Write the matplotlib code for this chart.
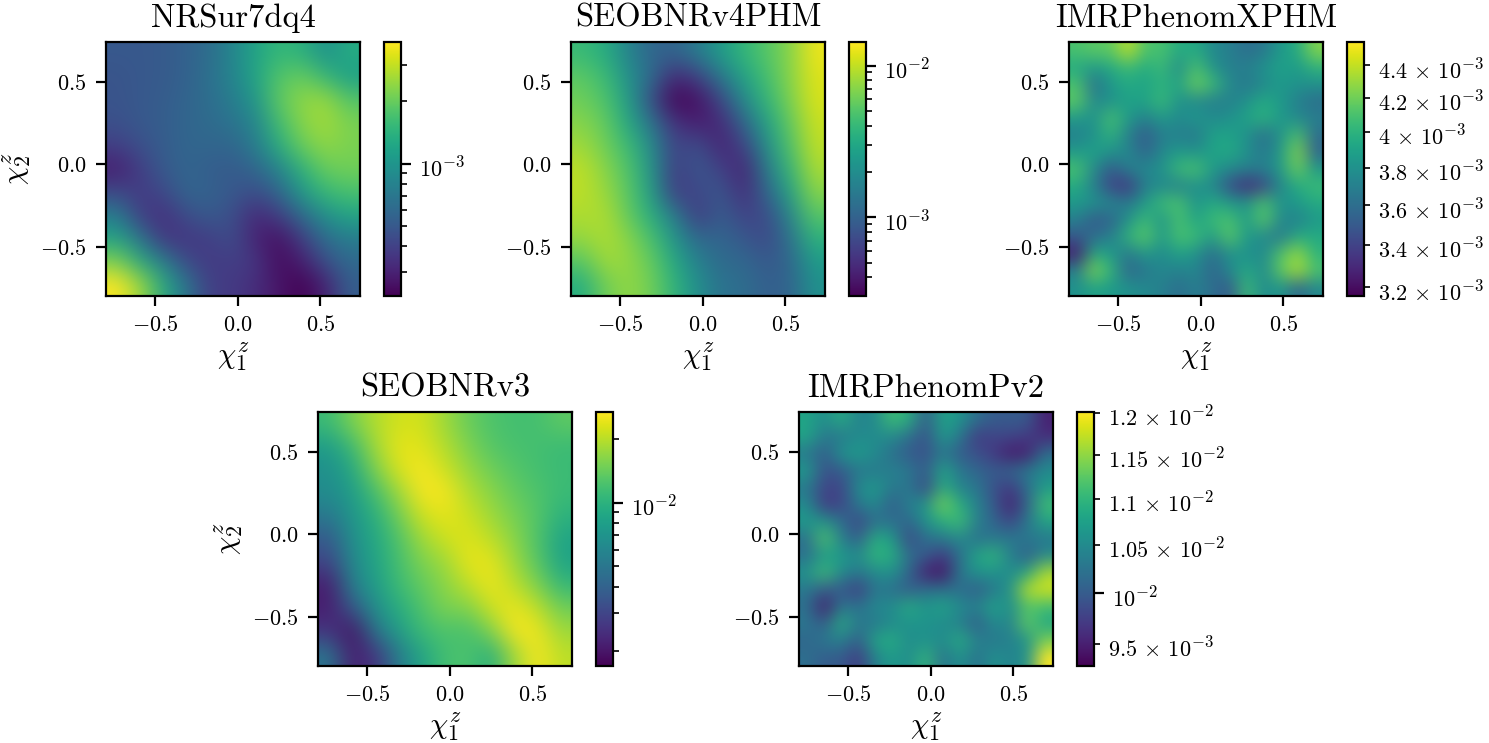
import matplotlib
matplotlib.use("Agg")
import matplotlib.pyplot as plt
import matplotlib._mathtext as mt
import numpy as np
from matplotlib.colors import LogNorm
from matplotlib.transforms import ScaledTranslation

plt.rcParams['font.family'] = ['cmr10', 'DejaVu Sans']
plt.rcParams['mathtext.fontset'] = 'cm'
plt.rcParams['axes.formatter.use_mathtext'] = True
plt.rcParams['axes.unicode_minus'] = False
mt.SHRINK_FACTOR = 0.75  # exponents a bit larger, closer to LaTeX

W, H = 1489, 743

spin_ticks = [-0.5, 0.0, 0.5]
spin_labels = [r'$-0.5$', r'$0.0$', r'$0.5$']

# mismatch maps, top row of each list is chi2 = +0.74
nrsur = np.array([
    [5.0, 5.0, 5.1, 5.5, 6.3, 8.4, 11.9, 15, 14, 9.4, 13],
    [4.8, 5.0, 5.1, 5.5, 6.5, 8.2, 11.9, 18, 20, 15, 11],
    [4.8, 5.0, 5.2, 5.7, 6.3, 7.5, 10.2, 19, 24, 25, 18],
    [4.6, 5.0, 5.3, 5.8, 6.1, 6.7, 8.4, 16, 23.2, 26, 22],
    [3.9, 4.6, 5.2, 5.8, 5.8, 5.8, 7.5, 13, 20, 24, 22],
    [2.9, 3.9, 5.1, 5.7, 5.3, 5.1, 5.8, 8.2, 14, 20, 21],
    [4.3, 3.7, 4.3, 5.8, 5.5, 5.0, 4.5, 5.8, 10.5, 15, 17],
    [7.5, 3.9, 3.4, 4.5, 5.1, 4.5, 3.2, 3.9, 6.1, 9.4, 12],
    [11.5, 6.7, 3.6, 3.6, 3.9, 4.5, 3.0, 2.6, 3.9, 6.3, 7.5],
    [22, 12.5, 7.5, 4.3, 3.7, 3.9, 3.6, 2.5, 2.9, 4.6, 6.0],
    [38, 25, 12.5, 6.7, 3.9, 3.7, 3.3, 2.7, 2.3, 3.0, 5.3],
]) * 1e-4

seobv4 = np.array([
    [41, 33, 17, 10.7, 10.3, 15, 25, 38, 52, 71, 127],
    [54, 41, 21, 11.5, 4.7, 6.5, 14, 28, 45, 71, 117],
    [61, 48, 25, 7.5, 3.1, 3.6, 7.0, 19, 38, 66, 113],
    [71, 56, 30, 13, 5.3, 4.1, 4.7, 10.7, 28, 56, 104],
    [82, 61, 41, 19, 6.5, 7.9, 4.4, 6.5, 21, 48, 97],
    [97, 71, 48, 22, 5.9, 8.8, 6.5, 4.4, 15, 38, 86],
    [97, 79, 52, 25, 5.9, 7.0, 8.8, 4.9, 10.7, 28, 71],
    [89, 89, 56, 33, 15, 5.7, 9.5, 6.5, 7.3, 18, 52],
    [76, 89, 71, 45, 22, 11, 10.7, 8.8, 7.0, 13, 36],
    [52, 82, 76, 56, 30, 16, 11.5, 11, 8.8, 10.7, 25],
    [33, 61, 76, 61, 36, 20, 13, 12, 9.5, 10.3, 21],
]) * 1e-4

xphm = np.array([
    [4.10, 4.15, 4.15, 4.40, 4.10, 4.10, 3.95, 3.95, 3.75, 3.70, 3.60, 3.65, 3.85, 3.95, 4.25],
    [3.95, 3.85, 3.95, 4.05, 3.95, 4.05, 3.75, 4.10, 3.80, 3.70, 3.70, 3.80, 3.90, 3.85, 4.00],
    [4.10, 3.60, 3.85, 3.95, 3.90, 4.00, 3.90, 4.20, 4.05, 3.75, 3.65, 3.75, 3.85, 3.80, 3.80],
    [4.15, 3.75, 3.80, 3.90, 3.90, 4.05, 3.80, 3.75, 3.70, 3.70, 3.80, 3.95, 3.85, 3.70, 3.60],
    [3.85, 3.80, 4.10, 3.85, 3.70, 3.85, 3.75, 3.85, 3.75, 3.80, 3.90, 4.00, 3.85, 3.75, 3.70],
    [3.70, 3.80, 4.00, 3.70, 3.50, 3.70, 3.70, 3.65, 3.90, 3.90, 3.80, 3.60, 3.80, 4.10, 3.60],
    [3.85, 3.90, 3.80, 3.75, 3.55, 3.75, 3.85, 3.80, 3.90, 3.95, 3.80, 3.65, 3.85, 4.25, 3.55],
    [4.10, 3.75, 3.50, 3.70, 3.75, 3.80, 4.05, 4.10, 3.85, 3.75, 3.70, 3.70, 3.85, 4.20, 3.85],
    [3.95, 3.70, 3.40, 3.35, 3.70, 3.75, 3.70, 3.80, 3.75, 3.45, 3.30, 3.40, 3.75, 3.95, 4.05],
    [3.85, 3.80, 3.75, 3.65, 3.85, 4.05, 4.10, 3.80, 3.95, 3.85, 3.80, 4.10, 3.80, 3.85, 3.95],
    [3.70, 3.50, 3.55, 3.80, 4.05, 3.80, 4.10, 3.90, 4.05, 4.10, 3.85, 4.15, 3.75, 3.70, 3.85],
    [3.50, 3.60, 3.70, 4.00, 4.15, 3.85, 4.10, 4.05, 3.85, 4.15, 3.85, 3.75, 3.65, 3.95, 3.95],
    [3.25, 3.95, 3.85, 3.65, 3.85, 3.75, 3.90, 3.80, 3.60, 3.80, 3.80, 3.75, 4.10, 4.30, 4.00],
    [3.70, 4.25, 4.00, 3.55, 3.65, 3.75, 3.70, 3.75, 3.55, 3.75, 3.95, 3.75, 4.15, 4.35, 4.10],
    [3.80, 3.90, 3.85, 3.80, 3.75, 3.70, 3.60, 3.70, 3.60, 3.50, 4.05, 3.75, 3.85, 3.55, 3.75],
]) * 1e-3

seobv3 = np.array([
    [11.1, 15.5, 19.4, 22.2, 22.2, 17.8, 14.2, 12.4, 11.7, 11.7, 13.5],
    [7.8, 11.1, 18.3, 24.2, 23.5, 19.4, 15.5, 13, 12, 11.7, 11.1],
    [6.7, 8.9, 15.5, 22.9, 26.2, 21.6, 17.3, 14.6, 12.8, 11.7, 11.1],
    [6.4, 7.8, 11.7, 17.8, 25.8, 25.8, 19.4, 16.4, 13.8, 12.4, 11.1],
    [5.1, 7.2, 9.7, 14.6, 21.6, 24.2, 21.6, 17.8, 15, 12.8, 10],
    [3.7, 6.7, 8.9, 12.4, 17.8, 21.6, 23.5, 20.4, 16.4, 12.4, 8.4],
    [3.0, 6.2, 8.4, 11.7, 15.5, 17.8, 24.2, 24.2, 17.8, 13, 8.4],
    [2.1, 5.6, 7.8, 11.1, 13.8, 16.4, 20.4, 25, 20.4, 15.5, 10.6],
    [2.1, 3.6, 6.7, 9.4, 12.4, 15.5, 15.5, 21.6, 25, 20.4, 14.6],
    [2.6, 1.9, 5.0, 7.8, 11.1, 12.4, 11.7, 15.5, 25.8, 25, 17.8],
    [5.0, 2.1, 2.6, 5.4, 8.4, 11.7, 12.4, 9.4, 17.8, 25.8, 20.4],
]) * 1e-3

pv2 = np.array([
    [1.08, 1.05, 1.09, 1.04, 1.05, 1.11, 1.09, 1.00, 1.08, 1.06, 1.02, 1.00, 1.00, 1.00, 0.95],
    [1.08, 1.03, 1.03, 1.05, 1.05, 1.05, 1.02, 0.99, 1.07, 1.03, 0.97, 0.98, 0.98, 0.97, 0.96],
    [1.03, 1.00, 1.06, 1.07, 1.05, 1.02, 1.00, 0.99, 1.03, 1.00, 0.99, 0.97, 0.945, 0.95, 1.02],
    [1.07, 0.99, 1.00, 1.03, 1.03, 1.04, 1.03, 1.00, 1.08, 1.03, 1.01, 1.00, 1.01, 1.03, 1.05],
    [1.03, 0.98, 0.98, 1.05, 1.07, 1.03, 1.03, 0.98, 1.09, 1.04, 1.03, 0.99, 0.97, 1.02, 1.07],
    [1.05, 0.97, 0.98, 1.03, 1.05, 1.00, 1.04, 1.06, 1.14, 1.09, 1.04, 1.00, 0.95, 1.01, 1.11],
    [1.07, 1.06, 1.02, 0.98, 1.02, 1.02, 1.01, 1.06, 1.09, 1.11, 1.04, 1.01, 0.98, 1.03, 1.08],
    [1.02, 1.12, 1.04, 1.00, 1.09, 1.07, 0.98, 1.02, 1.03, 1.05, 1.02, 1.03, 1.03, 1.03, 1.03],
    [1.02, 1.07, 1.07, 1.05, 1.10, 1.09, 1.02, 1.00, 0.97, 1.02, 1.08, 1.10, 1.04, 1.00, 1.05],
    [1.06, 1.11, 1.05, 1.03, 1.05, 1.06, 1.01, 0.95, 0.94, 1.03, 1.06, 1.06, 1.05, 1.08, 1.16],
    [1.03, 1.00, 1.00, 0.97, 1.03, 1.02, 1.00, 1.02, 1.02, 1.02, 1.00, 1.03, 1.06, 1.17, 1.18],
    [1.02, 0.945, 1.03, 1.02, 1.05, 1.05, 1.09, 1.06, 1.08, 1.05, 1.04, 1.08, 1.05, 1.12, 1.11],
    [1.03, 1.00, 1.09, 1.03, 1.03, 1.05, 1.06, 1.06, 1.05, 1.04, 1.00, 1.05, 1.04, 1.13, 1.08],
    [1.01, 1.03, 1.04, 1.00, 1.08, 1.09, 1.05, 1.06, 1.05, 1.09, 1.04, 1.03, 1.04, 1.06, 1.14],
    [1.02, 1.00, 1.00, 0.97, 1.04, 1.07, 1.05, 1.10, 1.02, 1.06, 1.02, 1.06, 1.04, 1.06, 1.20],
]) * 1e-2

names = ['NRSur7dq4', 'SEOBNRv4PHM', 'IMRPhenomXPHM', 'SEOBNRv3', 'IMRPhenomPv2']
maps = [nrsur, seobv4, xphm, seobv3, pv2]
limits = [(2.3e-4, 3.86e-3), (3.02e-4, 1.43e-2), (3.16e-3, 4.55e-3), (1.69e-3, 2.68e-2), (9.29e-3, 1.201e-2)]

major_ticks = [[1e-3], [1e-3, 1e-2], [], [1e-2], [1e-2]]
major_labels = [[r'$10^{-3}$'], [r'$10^{-3}$', r'$10^{-2}$'], [], [r'$10^{-2}$'], [r'$10^{-2}$']]
minor_ticks = [
    [3e-4, 4e-4, 5e-4, 6e-4, 7e-4, 8e-4, 9e-4, 2e-3, 3e-3],
    [4e-4, 5e-4, 6e-4, 7e-4, 8e-4, 9e-4, 2e-3, 3e-3, 4e-3, 5e-3, 6e-3, 7e-3, 8e-3, 9e-3],
    [3.2e-3, 3.4e-3, 3.6e-3, 3.8e-3, 4e-3, 4.2e-3, 4.4e-3],
    [2e-3, 3e-3, 4e-3, 5e-3, 6e-3, 7e-3, 8e-3, 9e-3, 2e-2],
    [9.5e-3, 1.05e-2, 1.1e-2, 1.15e-2, 1.2e-2],
]
minor_labels = [
    [],
    [],
    [r'$3.2\,\times\,10^{-3}$', r'$3.4\,\times\,10^{-3}$', r'$3.6\,\times\,10^{-3}$', r'$3.8\,\times\,10^{-3}$',
     r'$4\,\times\,10^{-3}$', r'$4.2\,\times\,10^{-3}$', r'$4.4\,\times\,10^{-3}$'],
    [],
    [r'$9.5\,\times\,10^{-3}$', r'$1.05\,\times\,10^{-2}$', r'$1.1\,\times\,10^{-2}$', r'$1.15\,\times\,10^{-2}$',
     r'$1.2\,\times\,10^{-2}$'],
]

# pixel positions: left edge of axes, left edge of colorbar, top edge
boxes = [(106, 384, 42), (571, 849, 42), (1069, 1347, 42), (318, 596, 412), (799, 1077, 412)]


def px_rect(x0, y0, w, h):
    return [x0 / W, 1 - (y0 + h) / H, w / W, h / H]


fig = plt.figure(figsize=(W / 200, H / 200), dpi=200)
shift = ScaledTranslation(0, -3 / 200, fig.dpi_scale_trans)

for i in range(5):
    x_ax, x_cb, y_top = boxes[i]
    ax = fig.add_axes(px_rect(x_ax, y_top, 254, 254))
    cax = fig.add_axes(px_rect(x_cb, y_top, 17, 254))

    vmin, vmax = limits[i]
    im = ax.imshow(maps[i], extent=(-0.8, 0.74, -0.8, 0.74), cmap='viridis',
                   norm=LogNorm(vmin=vmin, vmax=vmax), interpolation='bicubic',
                   interpolation_stage='rgba', aspect='auto')

    ax.set_xticks(spin_ticks, spin_labels, fontsize=8)
    ax.set_yticks(spin_ticks, spin_labels, fontsize=8)
    ax.set_xlabel(r'$\chi_1^z$', fontsize=10.5, labelpad=1.5)
    if i == 0 or i == 3:
        ax.set_ylabel(r'$\chi_2^z$', fontsize=10.5, labelpad=2.5)
    ax.set_title(names[i], fontsize=11.7, pad=5.5)

    cb = fig.colorbar(im, cax=cax)
    cax.yaxis.set_ticks(major_ticks[i], major_labels[i], fontsize=8)
    if minor_labels[i]:
        cax.yaxis.set_ticks(minor_ticks[i], minor_labels[i], minor=True, fontsize=8)
    else:
        cax.yaxis.set_ticks(minor_ticks[i], minor=True)
        cax.yaxis.set_minor_formatter(plt.NullFormatter())
    cax.tick_params(axis='y', which='both', pad=3)
    for lab in cax.get_yticklabels(which='both'):
        lab.set_transform(lab.get_transform() + shift)

fig.savefig('out.png', dpi=200)
